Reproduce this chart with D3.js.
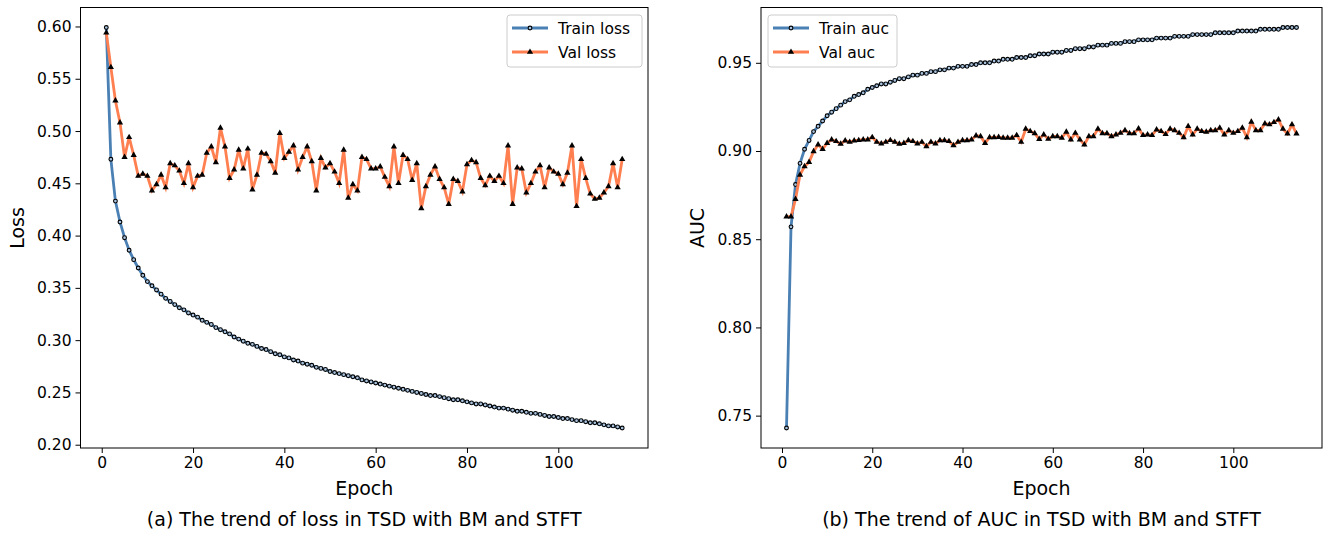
<!DOCTYPE html>
<html>
<head>
<meta charset="utf-8"/>
<script src="https://d3js.org/d3.v7.min.js"></script>
<style>
body { margin: 0; background: #fff; }
text { font-family: "DejaVu Sans", sans-serif; fill: #000; }
.tick text { font-size: 15.5px; }
.domain { display: none; }
</style>
</head>
<body>
<svg id="svg" width="1326" height="533"></svg>
<script>

var trainLoss = [0.599, 0.473, 0.433, 0.413, 0.398, 0.386, 0.377, 0.369, 0.362, 0.356,
  0.352, 0.348, 0.344, 0.340, 0.337, 0.334, 0.331, 0.329, 0.326, 0.324,
  0.322, 0.319, 0.317, 0.315, 0.312, 0.310, 0.308, 0.306, 0.303, 0.301,
  0.299, 0.297, 0.296, 0.294, 0.292, 0.291, 0.289, 0.287, 0.286, 0.284,
  0.283, 0.281, 0.280, 0.278, 0.277, 0.276, 0.274, 0.273, 0.272, 0.270,
  0.269, 0.268, 0.267, 0.266, 0.265, 0.264, 0.262, 0.261, 0.260, 0.259,
  0.258, 0.257, 0.256, 0.255, 0.254, 0.253, 0.252, 0.251, 0.250, 0.249,
  0.248, 0.247, 0.247, 0.246, 0.245, 0.244, 0.243, 0.243, 0.242, 0.241,
  0.240, 0.239, 0.239, 0.238, 0.237, 0.236, 0.235, 0.235, 0.234, 0.233,
  0.232, 0.232, 0.231, 0.230, 0.230, 0.229, 0.228, 0.227, 0.227, 0.226,
  0.225, 0.225, 0.224, 0.223, 0.223, 0.222, 0.221, 0.221, 0.220, 0.219,
  0.218, 0.218, 0.217, 0.216];

var valLoss = [0.594, 0.561, 0.529, 0.508, 0.475, 0.494, 0.477, 0.457, 0.459, 0.457,
  0.443, 0.449, 0.458, 0.446, 0.469, 0.467, 0.462, 0.450, 0.469, 0.446,
  0.457, 0.458, 0.479, 0.485, 0.470, 0.503, 0.485, 0.455, 0.463, 0.482,
  0.464, 0.483, 0.444, 0.458, 0.479, 0.478, 0.471, 0.460, 0.498, 0.474,
  0.480, 0.486, 0.463, 0.475, 0.485, 0.471, 0.443, 0.474, 0.465, 0.469,
  0.461, 0.450, 0.482, 0.436, 0.449, 0.443, 0.475, 0.473, 0.464, 0.464,
  0.466, 0.456, 0.447, 0.485, 0.450, 0.477, 0.473, 0.453, 0.469, 0.426,
  0.447, 0.458, 0.466, 0.454, 0.446, 0.430, 0.454, 0.452, 0.442, 0.468,
  0.472, 0.470, 0.455, 0.448, 0.457, 0.452, 0.457, 0.450, 0.486, 0.430,
  0.465, 0.464, 0.441, 0.450, 0.461, 0.467, 0.446, 0.465, 0.461, 0.459,
  0.449, 0.460, 0.486, 0.428, 0.473, 0.455, 0.440, 0.435, 0.436, 0.441,
  0.447, 0.469, 0.446, 0.473];

var trainAuc = [0.743, 0.857, 0.881, 0.893, 0.901, 0.906, 0.911, 0.914, 0.917, 0.920,
  0.922, 0.924, 0.926, 0.928, 0.929, 0.931, 0.932, 0.933, 0.935, 0.936,
  0.937, 0.938, 0.938, 0.939, 0.940, 0.941, 0.941, 0.942, 0.943, 0.943,
  0.944, 0.944, 0.945, 0.945, 0.946, 0.946, 0.947, 0.947, 0.948, 0.948,
  0.948, 0.949, 0.949, 0.950, 0.950, 0.950, 0.951, 0.951, 0.952, 0.952,
  0.952, 0.953, 0.953, 0.953, 0.954, 0.954, 0.955, 0.955, 0.955, 0.956,
  0.956, 0.956, 0.957, 0.957, 0.958, 0.958, 0.958, 0.959, 0.959, 0.960,
  0.960, 0.960, 0.961, 0.961, 0.961, 0.962, 0.962, 0.962, 0.963, 0.963,
  0.963, 0.963, 0.964, 0.964, 0.964, 0.964, 0.965, 0.965, 0.965, 0.965,
  0.966, 0.966, 0.966, 0.966, 0.966, 0.967, 0.967, 0.967, 0.967, 0.967,
  0.968, 0.968, 0.968, 0.968, 0.968, 0.969, 0.969, 0.969, 0.969, 0.969,
  0.970, 0.970, 0.970, 0.970];

var valAuc = [0.8628, 0.8628, 0.8727, 0.8865, 0.8913, 0.8937, 0.8998, 0.9036, 0.9011, 0.9045,
  0.9064, 0.9055, 0.9040, 0.9059, 0.9051, 0.9059, 0.9061, 0.9064, 0.9064, 0.9078,
  0.9051, 0.9042, 0.9051, 0.9061, 0.9051, 0.9040, 0.9045, 0.9060, 0.9055, 0.9042,
  0.9051, 0.9026, 0.9051, 0.9042, 0.9060, 0.9060, 0.9055, 0.9032, 0.9051, 0.9060,
  0.9060, 0.9064, 0.9087, 0.9083, 0.9045, 0.9077, 0.9077, 0.9079, 0.9074, 0.9074,
  0.9074, 0.9089, 0.9051, 0.9125, 0.9112, 0.9100, 0.9067, 0.9093, 0.9068, 0.9083,
  0.9083, 0.9074, 0.9108, 0.9064, 0.9102, 0.9064, 0.9036, 0.9083, 0.9083, 0.9125,
  0.9100, 0.9100, 0.9083, 0.9093, 0.9102, 0.9117, 0.9100, 0.9100, 0.9127, 0.9089,
  0.9093, 0.9089, 0.9121, 0.9112, 0.9095, 0.9125, 0.9117, 0.9102, 0.9077, 0.9140,
  0.9093, 0.9125, 0.9112, 0.9108, 0.9117, 0.9117, 0.9131, 0.9093, 0.9117, 0.9102,
  0.9112, 0.9131, 0.9077, 0.9165, 0.9117, 0.9117, 0.9155, 0.9150, 0.9163, 0.9178,
  0.9125, 0.9098, 0.9150, 0.9098];

var xTicks = [0, 20, 40, 60, 80, 100];
var lossTicks = [0.20, 0.25, 0.30, 0.35, 0.40, 0.45, 0.50, 0.55, 0.60];
var aucTicks = [0.75, 0.80, 0.85, 0.90, 0.95];

var svg = d3.select("#svg");
var blue = "#4a80b4", orange = "#ff7f50";

function panel(opt) {
  var x = d3.scaleLinear().domain([-4.65, 119.65]).range([opt.left, opt.right]);
  var all = opt.train.concat(opt.val);
  var lo = d3.min(all), hi = d3.max(all), pad = (hi - lo) * 0.05;
  var y = d3.scaleLinear().domain([lo - pad, hi + pad]).range([448, 7.5]);

  var g = svg.append("g");

  g.append("g")
    .attr("transform", "translate(0,448)")
    .call(d3.axisBottom(x).tickValues(xTicks).tickSize(5).tickPadding(4).tickSizeOuter(0));
  g.append("g")
    .attr("transform", "translate(" + opt.left + ",0)")
    .call(d3.axisLeft(y).tickValues(opt.yTicks).tickFormat(d3.format(".2f")).tickSize(5).tickPadding(4).tickSizeOuter(0));

  var line = d3.line().x(function(d, i) { return x(i + 1); }).y(function(d) { return y(d); });

  g.append("path").datum(opt.train)
    .attr("d", line).attr("fill", "none").attr("stroke", blue).attr("stroke-width", 2.8);
  g.selectAll(".tm").data(opt.train).enter().append("circle")
    .attr("cx", function(d, i) { return x(i + 1); })
    .attr("cy", function(d) { return y(d); })
    .attr("r", 1.9).attr("fill", "#a9c3de").attr("stroke", "#000").attr("stroke-width", 1.1);

  g.append("path").datum(opt.val)
    .attr("d", line).attr("fill", "none").attr("stroke", orange).attr("stroke-width", 2.8);
  var tri = d3.symbol().type(d3.symbolTriangle).size(17);
  g.selectAll(".vm").data(opt.val).enter().append("path")
    .attr("d", tri)
    .attr("transform", function(d, i) { return "translate(" + x(i + 1) + "," + y(d) + ")"; })
    .attr("fill", "#000");

  g.append("rect")
    .attr("x", opt.left).attr("y", 7.5)
    .attr("width", opt.right - opt.left).attr("height", 448 - 7.5)
    .attr("fill", "none").attr("stroke", "#000").attr("stroke-width", 1);

  var mid = (opt.left + opt.right) / 2;
  g.append("text").attr("x", mid).attr("y", 495).attr("text-anchor", "middle")
    .style("font-size", "19px").text("Epoch");
  g.append("text")
    .attr("transform", "translate(" + (opt.left - 57) + "," + 228 + ") rotate(-90)")
    .attr("text-anchor", "middle").style("font-size", "19px").text(opt.ylabel);
  g.append("text").attr("x", mid).attr("y", 526).attr("text-anchor", "middle")
    .style("font-size", "19px").text(opt.caption);

  // legend
  var lg = g.append("g").attr("transform", "translate(" + opt.legX + ",15)");
  lg.append("rect").attr("width", opt.legW).attr("height", 52).attr("rx", 3)
    .attr("fill", "#fff").attr("fill-opacity", 0.8).attr("stroke", "#ccc");
  var items = [{ name: opt.names[0], c: blue, m: "o" }, { name: opt.names[1], c: orange, m: "^" }];
  items.forEach(function(it, i) {
    var yy = 13 + i * 24;
    lg.append("line").attr("x1", 5).attr("x2", 41).attr("y1", yy).attr("y2", yy)
      .attr("stroke", it.c).attr("stroke-width", 2.8);
    if (it.m === "o") {
      lg.append("circle").attr("cx", 23).attr("cy", yy).attr("r", 1.9)
        .attr("fill", "#a9c3de").attr("stroke", "#000").attr("stroke-width", 1.1);
    } else {
      lg.append("path").attr("d", tri).attr("transform", "translate(23," + yy + ")").attr("fill", "#000");
    }
    lg.append("text").attr("x", 51).attr("y", yy + 5.5).style("font-size", "15.5px").text(it.name);
  });
}

panel({ left: 80.5, right: 648, train: trainLoss, val: valLoss, yTicks: lossTicks,
  ylabel: "Loss", caption: "(a) The trend of loss in TSD with BM and STFT",
  names: ["Train loss", "Val loss"], legX: 507, legW: 135 });

panel({ left: 761, right: 1322, train: trainAuc, val: valAuc, yTicks: aucTicks,
  ylabel: "AUC", caption: "(b) The trend of AUC in TSD with BM and STFT",
  names: ["Train auc", "Val auc"], legX: 768, legW: 129 });

</script>
</body>
</html>
